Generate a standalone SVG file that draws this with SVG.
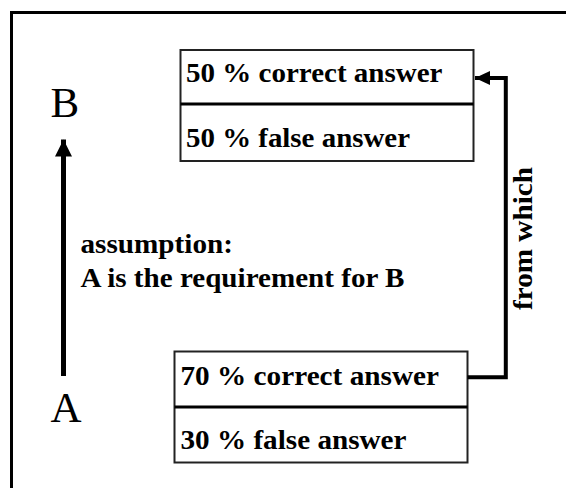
<svg xmlns="http://www.w3.org/2000/svg" width="566" height="488" viewBox="0 0 566 488">
<style>
.lbl{font-family:'Liberation Serif','Times New Roman',serif;font-weight:700;font-size:27px;fill:#000}
.big{font-family:'Liberation Serif','Times New Roman',serif;font-weight:400;font-size:43px;fill:#000}
.box{fill:#fff;stroke:#222;stroke-width:2}
.div{stroke:#000;stroke-width:3}
.conn{fill:none;stroke:#000;stroke-width:4}
</style>
<defs>
<marker id="ah" markerUnits="userSpaceOnUse" markerWidth="16" markerHeight="14" refX="15" refY="7" orient="auto">
<path d="M0,0 L15,7 L0,14 Z" fill="#000"/>
</marker>
<marker id="ah2" markerUnits="userSpaceOnUse" markerWidth="18" markerHeight="18" refX="17" refY="8.5" orient="auto">
<path d="M0,0 L17,8.5 L0,17 Z" fill="#000"/>
</marker>
</defs>
<rect width="566" height="488" fill="#fff"/>
<path d="M11.5,500 V12.5 H580" fill="none" stroke="#000" stroke-width="3"/>
<g id="nodeB"><text class="big" font-family="Liberation Serif" x="50.5" y="117.3">B</text></g>
<g id="nodeA"><text class="big" font-family="Liberation Serif" x="50.5" y="421.7">A</text></g>
<g id="assumption">
<text class="lbl" font-family="Liberation Serif" x="80.5" y="252.5" textLength="152.5" lengthAdjust="spacingAndGlyphs">assumption:</text>
<text class="lbl" font-family="Liberation Serif" x="80.5" y="287" textLength="324" lengthAdjust="spacingAndGlyphs">A is the requirement for B</text>
</g>
<g id="boxTop">
<rect class="box" x="180.5" y="50" width="293" height="111"/>
<line class="div" x1="180.5" y1="104" x2="473.5" y2="104"/>
<text class="lbl" font-family="Liberation Serif" x="186" y="82" textLength="256.5" lengthAdjust="spacingAndGlyphs">50 % correct answer</text>
<text class="lbl" font-family="Liberation Serif" x="186" y="147" textLength="224" lengthAdjust="spacingAndGlyphs">50 % false answer</text>
</g>
<g id="boxBottom">
<rect class="box" x="174.5" y="351.5" width="293" height="111"/>
<line class="div" x1="174.5" y1="407" x2="467.5" y2="407"/>
<text class="lbl" font-family="Liberation Serif" x="180.5" y="384.5" textLength="258.5" lengthAdjust="spacingAndGlyphs">70 % correct answer</text>
<text class="lbl" font-family="Liberation Serif" x="180.5" y="448.5" textLength="226" lengthAdjust="spacingAndGlyphs">30 % false answer</text>
</g>
<g id="connectors">
<line x1="63.5" y1="376" x2="63.5" y2="139.5" stroke="#000" stroke-width="5" marker-end="url(#ah2)"/>
<path class="conn" d="M467.5,377.3 H505.8 V78 H475" marker-end="url(#ah)"/>
<text class="lbl" font-family="Liberation Serif" transform="translate(532,310) rotate(-90)" x="0" y="0" textLength="143" lengthAdjust="spacingAndGlyphs">from which</text>
</g>
</svg>
